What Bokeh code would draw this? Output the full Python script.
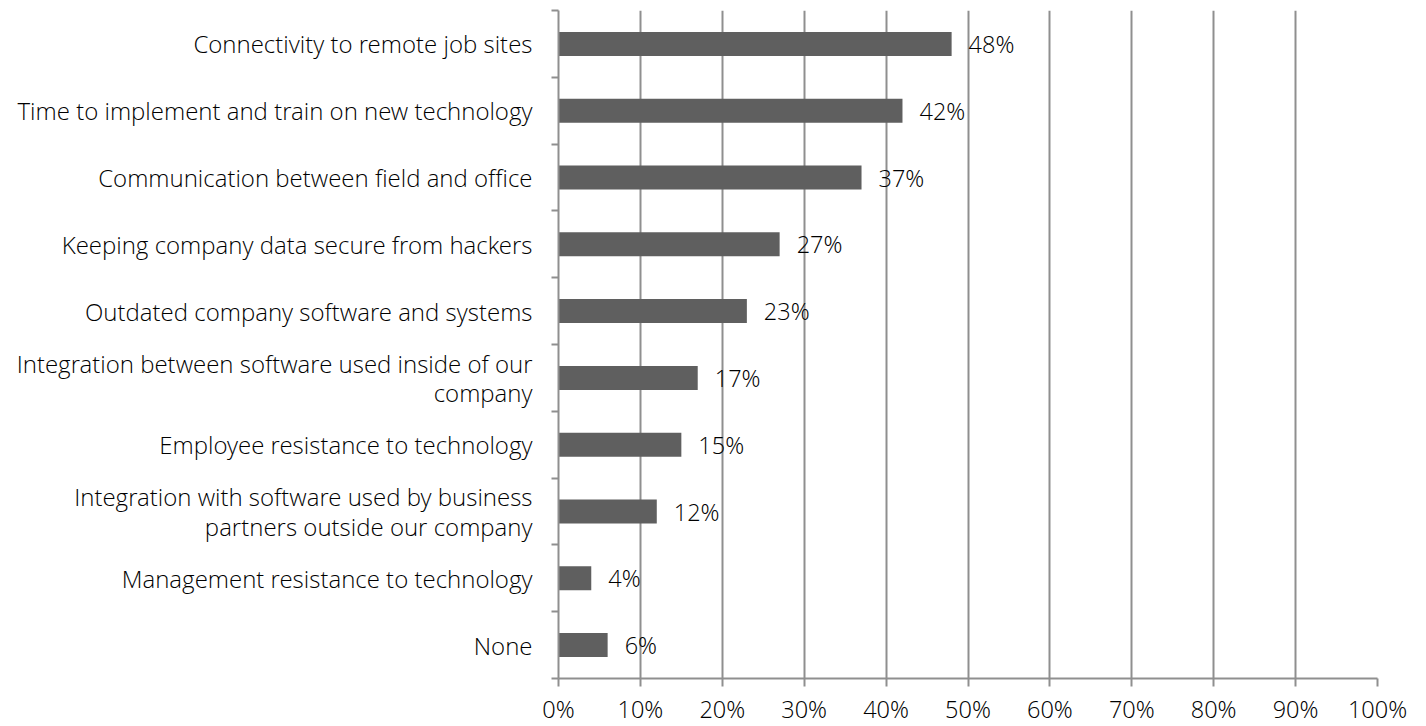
from bokeh.plotting import figure
from bokeh.models import FixedTicker, ColumnDataSource, Range1d, NumeralTickFormatter
from bokeh.core.properties import value
from bokeh.embed import file_html
from bokeh.resources import INLINE

categories = [
    "Connectivity to remote job sites",
    "Time to implement and train on new technology",
    "Communication between field and office",
    "Keeping company data secure from hackers",
    "Outdated company software and systems",
    "Integration between software used inside of our\ncompany",
    "Employee resistance to technology",
    "Integration with software used by business\npartners outside our company",
    "Management resistance to technology",
    "None",
]
values = [48, 42, 37, 27, 23, 17, 15, 12, 4, 6]
x_ticks = [0, 10, 20, 30, 40, 50, 60, 70, 80, 90, 100]

n = len(categories)
ypos = [n - i - 0.5 for i in range(n)]
labels = [f"{v}%" for v in values]

FONT = "'Open Sans Light', 'Lato Light', sans-serif"
FS = "23.5px"
GRID = "#8f8f8f"
TXT = "#000000"

p = figure(frame_width=819, frame_height=668, output_backend="svg", toolbar_location=None,
           x_range=Range1d(0, 100), y_range=Range1d(0, n),
           min_border_left=558, min_border_top=10, min_border_right=40, min_border_bottom=40)
p.outline_line_color = None
p.background_fill_color = "white"

src = ColumnDataSource(dict(y=ypos, v=values, lab=labels))
p.hbar(y="y", right="v", left=0, height=0.36, source=src, fill_color="#5f5f5f", line_color=None)
p.text(x="v", y="y", text="lab", source=src, x_offset=17, text_align="left", text_baseline="middle",
       text_font=value(FONT), text_font_size=FS, text_color=TXT)

# x axis
xa = p.xaxis[0]
xa.ticker = FixedTicker(ticks=x_ticks)
xa.formatter = NumeralTickFormatter(format="0%")
xa.major_label_overrides = {t: f"{t}%" for t in x_ticks}
xa.axis_line_color = GRID
xa.axis_line_width = 2
xa.major_tick_line_color = GRID
xa.major_tick_line_width = 2
xa.major_tick_out = 8
xa.major_tick_in = 0
xa.minor_tick_line_color = None
xa.major_label_text_font = FONT
xa.major_label_text_font_size = FS
xa.major_label_text_color = TXT
xa.major_label_standoff = 6

# y axis
ya = p.yaxis[0]
ya.ticker = FixedTicker(ticks=ypos, minor_ticks=list(range(n + 1)))
ya.major_label_overrides = {y: c for y, c in zip(ypos, categories)}
ya.axis_line_color = GRID
ya.axis_line_width = 2
ya.major_tick_line_color = None
ya.minor_tick_line_color = GRID
ya.minor_tick_line_width = 2
ya.minor_tick_out = 7
ya.minor_tick_in = 0
ya.major_label_text_font = FONT
ya.major_label_text_font_size = "24px"
ya.major_label_text_color = TXT
ya.major_label_text_line_height = 0.9
ya.major_label_standoff = 19

p.xgrid.ticker = FixedTicker(ticks=x_ticks)
p.xgrid.grid_line_color = GRID
p.xgrid.grid_line_width = 2
p.ygrid.grid_line_color = None

open("out.html", "w").write(file_html(p, INLINE))
